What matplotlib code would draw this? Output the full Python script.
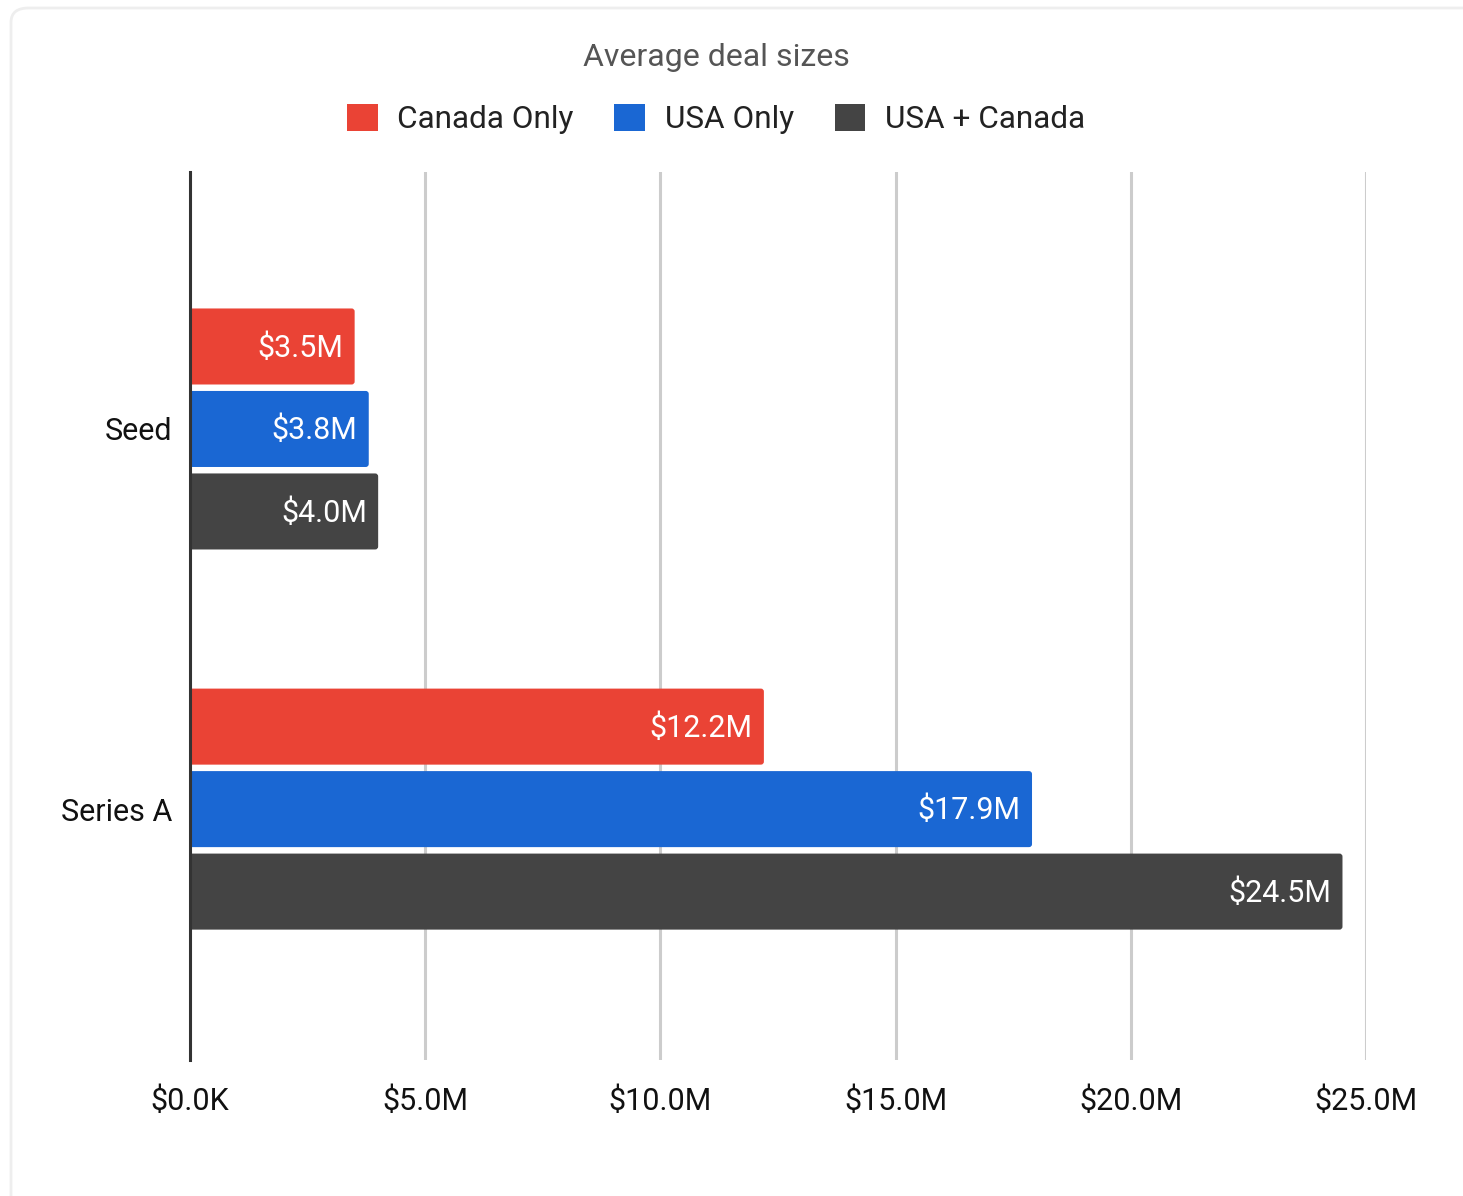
import matplotlib.pyplot as plt
from matplotlib.patches import FancyBboxPatch, Patch

plt.rcParams['font.family'] = ['Roboto', 'DejaVu Sans']

categories = ["Seed", "Series A"]
series_names = ["Canada Only", "USA Only", "USA + Canada"]
canada_only = [3.5, 12.2]
usa_only = [3.8, 17.9]
usa_canada = [4.0, 24.5]
tick_values = [0, 5, 10, 15, 20, 25]
tick_labels = ["$0.0K", "$5.0M", "$10.0M", "$15.0M", "$20.0M", "$25.0M"]

colors = ["#ea4335", "#1a67d3", "#444444"]
W, H = 1463, 1196

fig = plt.figure(figsize=(W / 100, H / 100), dpi=100)

# card outline behind everything
card = FancyBboxPatch((11 / W, -0.05), 1.2, 1 - 8 / H + 0.05,
                      boxstyle="round,pad=0,rounding_size=0.012",
                      transform=fig.transFigure, facecolor="white",
                      edgecolor="#eeeeee", linewidth=2, zorder=-1)
fig.patches.append(card)

ax = fig.add_axes([190 / W, 1 - 1060 / H, (1366 - 190) / W, (1060 - 172) / H])
ax.set_facecolor("none")

ax.set_xlim(0, 25)
ax.set_ylim(1.66, -0.676)

bar_h = 0.2
step = 0.217
# px per data unit in x and y, used to keep the corner rounding circular
x_px = (1366 - 190) / 25
y_px = (1060 - 172) / (1.66 + 0.676)
r = 3 / x_px

all_series = [canada_only, usa_only, usa_canada]
for i, (vals, name, col) in enumerate(zip(all_series, series_names, colors)):
    ys = [c + (i - 1) * step for c in range(len(categories))]
    bars = ax.barh(ys, vals, height=bar_h, color=col, label=name, zorder=3)
    for b, v in zip(bars, vals):
        b.set_visible(False)
        rounded = FancyBboxPatch((b.get_x() - 0.2, b.get_y()), b.get_width() + 0.2, b.get_height(),
                                 boxstyle=f"round,pad=0,rounding_size={r}",
                                 mutation_aspect=x_px / y_px,
                                 facecolor=col, edgecolor="none", zorder=3)
        ax.add_patch(rounded)
        ax.text(v - 0.24, b.get_y() + b.get_height() / 2 + 0.004, f"${v:.1f}M",
                ha="right", va="center", color="white", fontsize=22, zorder=4)

ax.set_xticks(tick_values)
ax.set_xticklabels(tick_labels, fontsize=22, color="#111111")
ax.set_yticks(range(len(categories)))
ax.set_yticklabels(categories, fontsize=22, color="#111111")
ax.tick_params(axis="x", length=0, pad=19)
ax.tick_params(axis="y", length=0, pad=13)
ax.grid(axis="x", color="#cccccc", linewidth=2.2, zorder=0)
for s in ["top", "right", "bottom"]:
    ax.spines[s].set_visible(False)
ax.spines["left"].set_color("#333333")
ax.spines["left"].set_linewidth(2.2)
ax.spines["left"].set_zorder(5)

fig.text(716 / W, 1 - 58 / H, "Average deal sizes", ha="center", va="center",
         fontsize=23, color="#555555")

handles = [Patch(facecolor=c, edgecolor="none") for c in colors]
fig.legend(handles, series_names, loc="center", bbox_to_anchor=(716 / W, 1 - 119 / H),
           ncol=3, frameon=False, fontsize=22.7, handlelength=0.97, handleheight=0.97,
           handletextpad=0.62, columnspacing=1.3, labelcolor="#222222")

fig.savefig("out.png", dpi=100)
